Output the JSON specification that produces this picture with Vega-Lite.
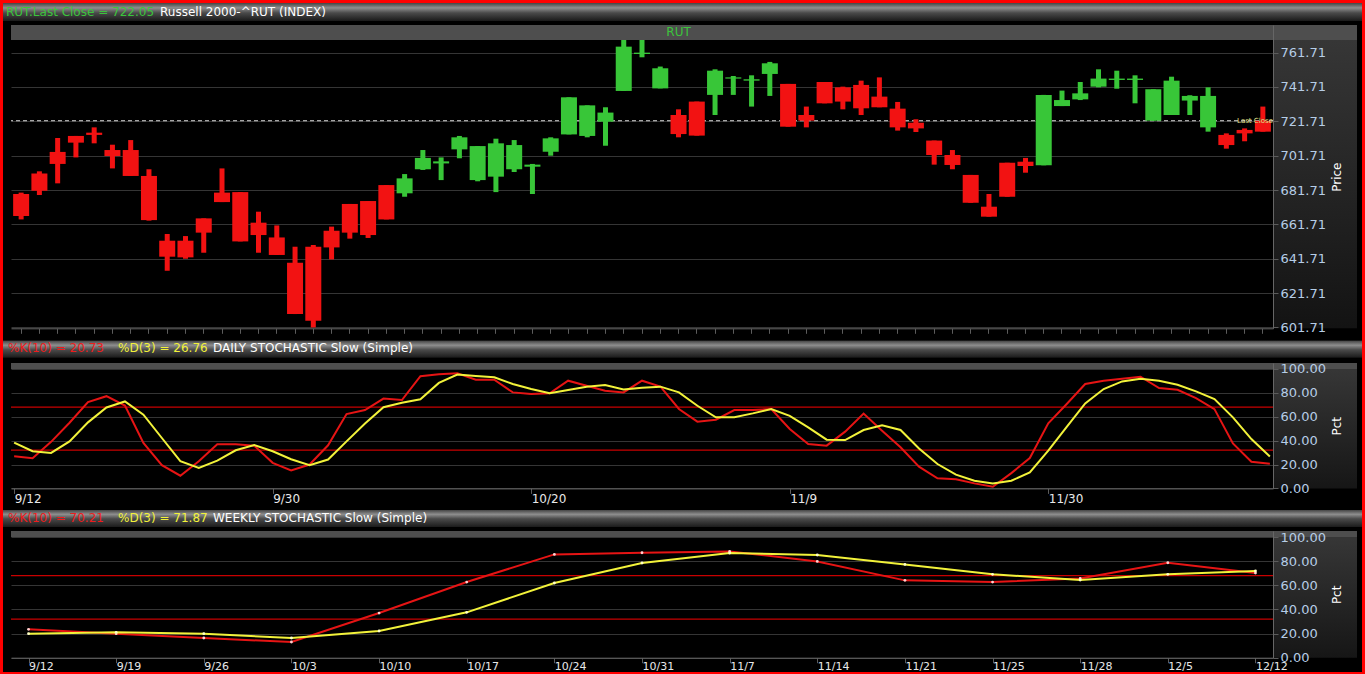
{
  "$schema": "https://vega.github.io/schema/vega-lite/v6.json",
  "description": "Russell 2000 daily candles with daily and weekly slow stochastics.",
  "background": "#000000",
  "padding": 0,
  "spacing": 0,
  "config": {
    "view": {"stroke": null},
    "font": "DejaVu Sans",
    "concat": {"spacing": 0},
    "axis": {
      "labelFont": "DejaVu Sans",
      "titleFont": "DejaVu Sans",
      "domainColor": "#5c5c5c",
      "tickColor": "#5c5c5c",
      "gridColor": "#353535",
      "gridWidth": 1,
      "titleColor": "#ffffff",
      "titleFontWeight": "normal",
      "labelFlush": false,
      "labelOverlap": false
    },
    "legend": {
      "labelFont": "DejaVu Sans",
      "titleFont": "DejaVu Sans",
      "labelFontSize": 12,
      "titleFontSize": 12,
      "titleFontWeight": "normal",
      "titleColor": "#ffffff",
      "titleLimit": 1000,
      "labelLimit": 1000,
      "padding": 0,
      "columnPadding": 14,
      "titleOrient": "right",
      "titlePadding": 5,
      "direction": "horizontal",
      "orient": "top-left"
    }
  },
  "datasets": {
    "candles": [
      {"date": "2011-09-12", "trend": "down", "open": 679.4, "high": 680.2, "low": 664.6, "close": 666.6},
      {"date": "2011-09-13", "trend": "down", "open": 691.4, "high": 692.6, "low": 678.8, "close": 681.3},
      {"date": "2011-09-14", "trend": "down", "open": 703.9, "high": 712.0, "low": 685.6, "close": 696.9},
      {"date": "2011-09-15", "trend": "down", "open": 713.2, "high": 713.2, "low": 700.7, "close": 709.3},
      {"date": "2011-09-16", "trend": "down", "open": 715.1, "high": 718.2, "low": 708.9, "close": 713.8},
      {"date": "2011-09-19", "trend": "down", "open": 705.0, "high": 708.1, "low": 694.3, "close": 701.5},
      {"date": "2011-09-20", "trend": "down", "open": 705.0, "high": 710.8, "low": 689.9, "close": 689.9},
      {"date": "2011-09-21", "trend": "down", "open": 689.9, "high": 693.8, "low": 663.9, "close": 664.2},
      {"date": "2011-09-22", "trend": "down", "open": 652.2, "high": 656.1, "low": 634.7, "close": 642.9},
      {"date": "2011-09-23", "trend": "down", "open": 652.2, "high": 654.9, "low": 641.7, "close": 642.5},
      {"date": "2011-09-26", "trend": "down", "open": 665.2, "high": 665.2, "low": 645.2, "close": 656.9},
      {"date": "2011-09-27", "trend": "down", "open": 680.2, "high": 694.3, "low": 674.7, "close": 674.7},
      {"date": "2011-09-28", "trend": "down", "open": 680.5, "high": 680.5, "low": 651.8, "close": 651.8},
      {"date": "2011-09-29", "trend": "down", "open": 662.7, "high": 669.1, "low": 645.2, "close": 655.5},
      {"date": "2011-09-30", "trend": "down", "open": 654.1, "high": 661.1, "low": 643.9, "close": 643.9},
      {"date": "2011-10-03", "trend": "down", "open": 639.4, "high": 648.7, "low": 609.5, "close": 609.5},
      {"date": "2011-10-04", "trend": "down", "open": 648.7, "high": 649.7, "low": 601.71, "close": 605.6},
      {"date": "2011-10-05", "trend": "down", "open": 658.0, "high": 660.4, "low": 641.3, "close": 648.3},
      {"date": "2011-10-06", "trend": "down", "open": 673.6, "high": 673.6, "low": 653.4, "close": 656.9},
      {"date": "2011-10-07", "trend": "down", "open": 675.3, "high": 675.3, "low": 653.8, "close": 655.5},
      {"date": "2011-10-10", "trend": "down", "open": 684.6, "high": 684.6, "low": 664.6, "close": 664.6},
      {"date": "2011-10-11", "trend": "up", "open": 679.8, "high": 691.0, "low": 677.8, "close": 688.5},
      {"date": "2011-10-12", "trend": "up", "open": 693.8, "high": 705.0, "low": 693.4, "close": 700.4},
      {"date": "2011-10-13", "trend": "up", "open": 697.2, "high": 700.7, "low": 687.5, "close": 698.4},
      {"date": "2011-10-14", "trend": "up", "open": 705.4, "high": 713.2, "low": 700.2, "close": 712.4},
      {"date": "2011-10-17", "trend": "up", "open": 687.5, "high": 707.3, "low": 686.8, "close": 707.3},
      {"date": "2011-10-18", "trend": "up", "open": 689.5, "high": 711.6, "low": 680.5, "close": 708.9},
      {"date": "2011-10-19", "trend": "up", "open": 693.8, "high": 710.8, "low": 692.2, "close": 707.9},
      {"date": "2011-10-20", "trend": "up", "open": 695.3, "high": 696.9, "low": 679.4, "close": 696.5},
      {"date": "2011-10-21", "trend": "up", "open": 704.0, "high": 712.4, "low": 701.7, "close": 711.8},
      {"date": "2011-10-24", "trend": "up", "open": 714.1, "high": 735.7, "low": 714.1, "close": 735.7},
      {"date": "2011-10-25", "trend": "up", "open": 713.2, "high": 731.0, "low": 712.4, "close": 731.0},
      {"date": "2011-10-26", "trend": "up", "open": 721.5, "high": 729.9, "low": 707.5, "close": 726.8},
      {"date": "2011-10-27", "trend": "up", "open": 739.4, "high": 770.0, "low": 739.4, "close": 765.2},
      {"date": "2011-10-28", "trend": "up", "open": 760.9, "high": 770.0, "low": 759.0, "close": 761.7},
      {"date": "2011-10-31", "trend": "up", "open": 740.9, "high": 753.6, "low": 740.9, "close": 752.6},
      {"date": "2011-11-01", "trend": "down", "open": 725.4, "high": 728.7, "low": 712.4, "close": 714.3},
      {"date": "2011-11-02", "trend": "down", "open": 733.2, "high": 733.2, "low": 713.4, "close": 713.4},
      {"date": "2011-11-03", "trend": "up", "open": 737.1, "high": 752.0, "low": 725.4, "close": 751.2},
      {"date": "2011-11-04", "trend": "up", "open": 746.6, "high": 748.1, "low": 737.1, "close": 747.3},
      {"date": "2011-11-07", "trend": "up", "open": 745.4, "high": 748.5, "low": 730.3, "close": 746.2},
      {"date": "2011-11-08", "trend": "up", "open": 749.3, "high": 756.3, "low": 736.5, "close": 755.5},
      {"date": "2011-11-09", "trend": "down", "open": 743.5, "high": 743.5, "low": 718.6, "close": 718.6},
      {"date": "2011-11-10", "trend": "down", "open": 725.4, "high": 730.3, "low": 718.2, "close": 722.1},
      {"date": "2011-11-11", "trend": "down", "open": 744.6, "high": 744.6, "low": 732.2, "close": 732.2},
      {"date": "2011-11-14", "trend": "down", "open": 741.5, "high": 741.9, "low": 728.7, "close": 733.2},
      {"date": "2011-11-15", "trend": "down", "open": 742.9, "high": 745.4, "low": 725.4, "close": 729.3},
      {"date": "2011-11-16", "trend": "down", "open": 736.1, "high": 747.3, "low": 729.9, "close": 729.9},
      {"date": "2011-11-17", "trend": "down", "open": 729.1, "high": 733.0, "low": 716.3, "close": 718.2},
      {"date": "2011-11-18", "trend": "down", "open": 720.9, "high": 722.9, "low": 715.5, "close": 717.6},
      {"date": "2011-11-21", "trend": "down", "open": 710.5, "high": 710.5, "low": 696.5, "close": 702.1},
      {"date": "2011-11-22", "trend": "down", "open": 702.1, "high": 705.0, "low": 693.8, "close": 696.3},
      {"date": "2011-11-23", "trend": "down", "open": 690.5, "high": 690.5, "low": 674.3, "close": 674.3},
      {"date": "2011-11-25", "trend": "down", "open": 672.0, "high": 679.4, "low": 666.2, "close": 666.2},
      {"date": "2011-11-28", "trend": "down", "open": 697.6, "high": 697.6, "low": 677.8, "close": 677.8},
      {"date": "2011-11-29", "trend": "down", "open": 698.2, "high": 700.4, "low": 691.8, "close": 695.7},
      {"date": "2011-11-30", "trend": "up", "open": 696.1, "high": 737.1, "low": 696.1, "close": 737.1},
      {"date": "2011-12-01", "trend": "up", "open": 730.6, "high": 739.6, "low": 730.6, "close": 734.1},
      {"date": "2011-12-02", "trend": "up", "open": 734.5, "high": 744.6, "low": 734.1, "close": 738.0},
      {"date": "2011-12-05", "trend": "up", "open": 741.9, "high": 752.0, "low": 741.5, "close": 746.6},
      {"date": "2011-12-06", "trend": "up", "open": 745.8, "high": 751.2, "low": 740.7, "close": 746.6},
      {"date": "2011-12-07", "trend": "up", "open": 745.8, "high": 748.5, "low": 732.2, "close": 746.6},
      {"date": "2011-12-08", "trend": "up", "open": 722.1, "high": 740.4, "low": 722.1, "close": 740.4},
      {"date": "2011-12-09", "trend": "up", "open": 725.4, "high": 747.7, "low": 725.4, "close": 745.4},
      {"date": "2011-12-12", "trend": "up", "open": 733.8, "high": 736.9, "low": 725.4, "close": 736.5},
      {"date": "2011-12-13", "trend": "up", "open": 718.2, "high": 741.5, "low": 715.7, "close": 736.5},
      {"date": "2011-12-14", "trend": "down", "open": 713.8, "high": 714.7, "low": 705.8, "close": 707.9},
      {"date": "2011-12-15", "trend": "down", "open": 716.7, "high": 717.6, "low": 710.1, "close": 714.7},
      {"date": "2011-12-16", "trend": "down", "open": 722.05, "high": 730.3, "low": 715.7, "close": 715.7}
    ],
    "daily": [
      {"date": "2011-09-12", "k": 26.9, "d": 38.3},
      {"date": "2011-09-13", "k": 25.3, "d": 31.1},
      {"date": "2011-09-14", "k": 39.0, "d": 29.7},
      {"date": "2011-09-15", "k": 55.0, "d": 39.4},
      {"date": "2011-09-16", "k": 72.2, "d": 55.3},
      {"date": "2011-09-19", "k": 77.2, "d": 67.8},
      {"date": "2011-09-20", "k": 69.4, "d": 72.8},
      {"date": "2011-09-21", "k": 38.1, "d": 61.7},
      {"date": "2011-09-22", "k": 19.4, "d": 42.2},
      {"date": "2011-09-23", "k": 10.6, "d": 22.8},
      {"date": "2011-09-26", "k": 22.8, "d": 17.2},
      {"date": "2011-09-27", "k": 36.9, "d": 23.3},
      {"date": "2011-09-28", "k": 36.9, "d": 31.9},
      {"date": "2011-09-29", "k": 35.8, "d": 36.4},
      {"date": "2011-09-30", "k": 21.4, "d": 31.1},
      {"date": "2011-10-03", "k": 15.0, "d": 24.4},
      {"date": "2011-10-04", "k": 20.0, "d": 19.4},
      {"date": "2011-10-05", "k": 36.1, "d": 24.2},
      {"date": "2011-10-06", "k": 62.2, "d": 39.4},
      {"date": "2011-10-07", "k": 65.6, "d": 54.4},
      {"date": "2011-10-10", "k": 75.2, "d": 68.0},
      {"date": "2011-10-11", "k": 74.0, "d": 71.7},
      {"date": "2011-10-12", "k": 94.0, "d": 74.6},
      {"date": "2011-10-13", "k": 95.5, "d": 88.3},
      {"date": "2011-10-14", "k": 96.4, "d": 95.3},
      {"date": "2011-10-17", "k": 91.0, "d": 94.2},
      {"date": "2011-10-18", "k": 91.0, "d": 93.0},
      {"date": "2011-10-19", "k": 80.4, "d": 87.4},
      {"date": "2011-10-20", "k": 79.0, "d": 83.2},
      {"date": "2011-10-21", "k": 79.6, "d": 79.6},
      {"date": "2011-10-24", "k": 90.2, "d": 82.3},
      {"date": "2011-10-25", "k": 86.0, "d": 85.2},
      {"date": "2011-10-26", "k": 81.8, "d": 86.6},
      {"date": "2011-10-27", "k": 80.4, "d": 82.9},
      {"date": "2011-10-28", "k": 90.2, "d": 84.3},
      {"date": "2011-10-31", "k": 85.2, "d": 85.2},
      {"date": "2011-11-01", "k": 66.5, "d": 80.4},
      {"date": "2011-11-02", "k": 55.9, "d": 69.2},
      {"date": "2011-11-03", "k": 57.5, "d": 59.5},
      {"date": "2011-11-04", "k": 65.6, "d": 59.5},
      {"date": "2011-11-07", "k": 65.6, "d": 62.8},
      {"date": "2011-11-08", "k": 66.5, "d": 66.5},
      {"date": "2011-11-09", "k": 49.7, "d": 60.8},
      {"date": "2011-11-10", "k": 37.2, "d": 51.1},
      {"date": "2011-11-11", "k": 35.8, "d": 40.8},
      {"date": "2011-11-14", "k": 47.5, "d": 40.5},
      {"date": "2011-11-15", "k": 62.6, "d": 48.9},
      {"date": "2011-11-16", "k": 48.3, "d": 52.8},
      {"date": "2011-11-17", "k": 34.4, "d": 48.9},
      {"date": "2011-11-18", "k": 18.2, "d": 33.5},
      {"date": "2011-11-21", "k": 8.4, "d": 20.4},
      {"date": "2011-11-22", "k": 7.6, "d": 11.5},
      {"date": "2011-11-23", "k": 4.2, "d": 6.4},
      {"date": "2011-11-25", "k": 1.4, "d": 4.2},
      {"date": "2011-11-28", "k": 12.8, "d": 6.4},
      {"date": "2011-11-29", "k": 25.4, "d": 13.4},
      {"date": "2011-11-30", "k": 54.5, "d": 31.6},
      {"date": "2011-12-01", "k": 70.7, "d": 51.6},
      {"date": "2011-12-02", "k": 87.4, "d": 71.2},
      {"date": "2011-12-05", "k": 90.2, "d": 83.2},
      {"date": "2011-12-06", "k": 91.9, "d": 89.6},
      {"date": "2011-12-07", "k": 93.5, "d": 91.8},
      {"date": "2011-12-08", "k": 84.0, "d": 90.2},
      {"date": "2011-12-09", "k": 82.6, "d": 86.8},
      {"date": "2011-12-12", "k": 75.6, "d": 81.2},
      {"date": "2011-12-13", "k": 66.4, "d": 74.8},
      {"date": "2011-12-14", "k": 37.7, "d": 59.5},
      {"date": "2011-12-15", "k": 22.3, "d": 41.3},
      {"date": "2011-12-16", "k": 20.73, "d": 26.76}
    ],
    "weekly": [
      {"date": "2011-09-12", "k": 23.5, "d": 19.9},
      {"date": "2011-09-19", "k": 19.9, "d": 21.0},
      {"date": "2011-09-26", "k": 16.3, "d": 19.9},
      {"date": "2011-10-03", "k": 13.0, "d": 16.3},
      {"date": "2011-10-10", "k": 37.0, "d": 22.1},
      {"date": "2011-10-17", "k": 62.7, "d": 37.6},
      {"date": "2011-10-24", "k": 85.6, "d": 61.9},
      {"date": "2011-10-31", "k": 87.0, "d": 78.5},
      {"date": "2011-11-07", "k": 88.1, "d": 86.7},
      {"date": "2011-11-14", "k": 79.8, "d": 85.1},
      {"date": "2011-11-21", "k": 64.1, "d": 77.3},
      {"date": "2011-11-25", "k": 62.7, "d": 69.1},
      {"date": "2011-11-28", "k": 65.7, "d": 64.4},
      {"date": "2011-12-05", "k": 78.7, "d": 69.1},
      {"date": "2011-12-12", "k": 70.21, "d": 71.87}
    ],
    "levels": [{"level": 32}, {"level": 68}]
  },
  "hconcat": [
    {
      "width": 3,
      "height": 674,
      "view": {"fill": "#ff0000", "stroke": null},
      "data": {"values": []},
      "mark": "point"
    },
    {
      "resolve": {"scale": {"color": "independent"}, "legend": {"color": "independent"}},
      "vconcat": [
        {
          "width": 1359,
          "height": 3,
          "view": {"fill": "#ff0000", "stroke": null},
          "data": {"values": []},
          "mark": "point"
        },
        {
          "width": 1359,
          "height": 22,
          "view": {
            "stroke": null,
            "fill": {
              "gradient": "linear", "x1": 0, "y1": 0, "x2": 0, "y2": 1,
              "stops": [
                {"offset": 0, "color": "#444444"},
                {"offset": 0.22, "color": "#8e8e8e"},
                {"offset": 0.45, "color": "#4a4a4a"},
                {"offset": 0.8, "color": "#1c1c1c"},
                {"offset": 0.81, "color": "#000000"},
                {"offset": 1, "color": "#000000"}
              ]
            }
          },
          "data": {"values": [{"item": "RUT.Last Close = 722.05"}]},
          "mark": {"type": "point", "opacity": 0},
          "encoding": {
            "color": {
              "field": "item",
              "type": "nominal",
              "scale": {"range": ["#3cc43c"]},
              "legend": {
                "title": "Russell 2000-^RUT (INDEX)",
                "offset": 0,
                "padding": 3,
                "titlePadding": 6,
                "symbolSize": 1,
                "symbolStrokeWidth": 0,
                "labelOffset": -12,
                "labelColor": "#3cc43c"
              }
            }
          }
        },
        {
          "bounds": "flush",
          "hconcat": [
            {"width": 8, "height": 303, "data": {"values": []}, "mark": "point"},
            {
              "width": 1262,
              "height": 303.3,
              "data": {"name": "candles"},
              "encoding": {
                "x": {
                  "field": "date",
                  "type": "ordinal",
                  "scale": {"paddingInner": 0, "paddingOuter": 0.055},
                  "axis": {"labels": false, "title": null, "tickSize": 5, "domainColor": "#666666"}
                }
              },
              "layer": [
                {
                  "data": {"values": [{}]},
                  "mark": {"type": "rule", "color": "#d8d8d8", "strokeDash": [4, 3], "strokeWidth": 1},
                  "encoding": {"y": {"datum": 722.05, "type": "quantitative"}, "x": null}
                },
                {
                  "mark": {"type": "bar", "size": 5},
                  "encoding": {
                    "y": {
                      "field": "low",
                      "type": "quantitative",
                      "scale": {"domain": [601.2, 777.8], "nice": false, "zero": false},
                      "axis": {
                        "orient": "right",
                        "values": [601.71, 621.71, 641.71, 661.71, 681.71, 701.71, 721.71, 741.71, 761.71],
                        "tickCount": 20,
                        "grid": true,
                        "labels": false,
                        "ticks": false,
                        "domain": false,
                        "title": null
                      }
                    },
                    "y2": {"field": "high"},
                    "color": {
                      "field": "trend",
                      "type": "nominal",
                      "scale": {"domain": ["down", "up"], "range": ["#f21212", "#38c638"]},
                      "legend": null
                    }
                  }
                },
                {
                  "mark": {"type": "bar", "size": 16},
                  "encoding": {
                    "y": {"field": "open", "type": "quantitative"},
                    "y2": {"field": "close"},
                    "color": {"field": "trend", "type": "nominal", "legend": null}
                  }
                },
                {
                  "data": {"values": [{}]},
                  "mark": {"type": "rect", "color": "#4e4e4e"},
                  "encoding": {"y": {"datum": 769.1, "type": "quantitative"}, "y2": {"datum": 777.8}, "x": null}
                },
                {
                  "data": {"values": [{}]},
                  "mark": {"type": "text", "color": "#3cc43c", "fontSize": 12, "baseline": "middle"},
                  "encoding": {
                    "x": {"datum": "2011-11-01", "type": "ordinal"},
                    "y": {"datum": 773.5, "type": "quantitative"},
                    "text": {"value": "RUT"}
                  }
                },
                {
                  "data": {"values": [{}]},
                  "mark": {"type": "text", "color": "#e0e08a", "fontSize": 7, "baseline": "middle", "align": "right", "dx": 10},
                  "encoding": {
                    "x": {"datum": "2011-12-16", "type": "ordinal"},
                    "y": {"datum": 722.05, "type": "quantitative"},
                    "text": {"value": "Last Close"}
                  }
                }
              ]
            },
            {
              "width": 84,
              "height": 303.3,
              "view": {
                "stroke": null,
                "fill": {
                  "gradient": "linear", "x1": 0, "y1": 0, "x2": 0, "y2": 1,
                  "stops": [{"offset": 0, "color": "#383838"}, {"offset": 1, "color": "#131313"}]
                }
              },
              "data": {"values": [{}]},
              "mark": {"type": "rect", "color": "#4e4e4e"},
              "encoding": {
                "y": {
                  "datum": 769.1,
                  "type": "quantitative",
                  "scale": {"domain": [601.2, 777.8], "nice": false, "zero": false},
                  "axis": {
                    "orient": "right",
                    "offset": -84,
                    "zindex": 1,
                    "values": [601.71, 621.71, 641.71, 661.71, 681.71, 701.71, 721.71, 741.71, 761.71],
                    "tickCount": 20,
                    "format": ".2f",
                    "grid": false,
                    "tickSize": 5,
                    "labelPadding": 2,
                    "labelFontSize": 13,
                    "labelColor": "#b6cde6",
                    "domainColor": "#666666",
                    "title": "Price",
                    "titleFontSize": 12,
                    "titleAngle": 270,
                    "titlePadding": 18
                  }
                },
                "y2": {"datum": 777.8}
              }
            }
          ]
        },
        {
          "width": 1359,
          "height": 27,
          "view": {
            "stroke": null,
            "fill": {
              "gradient": "linear", "x1": 0, "y1": 0, "x2": 0, "y2": 1,
              "stops": [
                {"offset": 0, "color": "#000000"},
                {"offset": 0.2, "color": "#000000"},
                {"offset": 0.21, "color": "#444444"},
                {"offset": 0.38, "color": "#8e8e8e"},
                {"offset": 0.55, "color": "#4a4a4a"},
                {"offset": 0.83, "color": "#1c1c1c"},
                {"offset": 0.84, "color": "#000000"},
                {"offset": 1, "color": "#000000"}
              ]
            }
          },
          "data": {"values": [{"series": "K"}, {"series": "D"}]},
          "mark": {"type": "point", "opacity": 0},
          "encoding": {
            "color": {
              "field": "series",
              "type": "nominal",
              "scale": {"domain": ["K", "D"], "range": ["#ee1c1c", "#f2f23a"]},
              "legend": {
                "title": "DAILY STOCHASTIC Slow (Simple)",
                "offset": 7,
                "symbolSize": 1,
                "symbolStrokeWidth": 0,
                "labelOffset": -14,
                "labelExpr": "datum.value == 'K' ? '%K(10) = 20.73' : '%D(3) = 26.76'",
                "labelColor": {"expr": "datum.value == 'K' ? '#ee1c1c' : '#f2f23a'"}
              }
            }
          }
        },
        {
          "bounds": "flush",
          "hconcat": [
            {"width": 8, "height": 125, "data": {"values": []}, "mark": "point"},
            {
              "width": 1262,
              "height": 125.4,
              "data": {"name": "daily"},
              "encoding": {
                "x": {
                  "field": "date",
                  "type": "ordinal",
                  "scale": {"type": "point", "padding": 0.17},
                  "axis": {
                    "title": null,
                    "values": ["2011-09-12", "2011-09-30", "2011-10-20", "2011-11-09", "2011-11-30"],
                    "labelExpr": "parseInt(slice(datum.value, 5, 7)) + '/' + parseInt(slice(datum.value, 8, 10))",
                    "labelAlign": "left",
                    "labelBaseline": "top",
                    "labelAngle": 0,
                    "labelPadding": 0,
                    "labelColor": "#e8e8e8",
                    "labelFontSize": 12,
                    "tickSize": 5,
                    "domainColor": "#666666"
                  }
                }
              },
              "layer": [
                {
                  "data": {"values": [{}]},
                  "mark": {"type": "rect", "color": "#4e4e4e"},
                  "encoding": {
                    "y": {
                      "datum": 100,
                      "type": "quantitative",
                      "scale": {"domain": [0, 105], "nice": false},
                      "axis": {
                        "orient": "right",
                        "values": [0, 20, 40, 60, 80, 100],
                        "tickCount": 20,
                        "grid": true,
                        "labels": false,
                        "ticks": false,
                        "domain": false,
                        "title": null
                      }
                    },
                    "y2": {"datum": 105},
                    "x": null
                  }
                },
                {
                  "data": {"name": "levels"},
                  "mark": {"type": "rule", "color": "#c80000", "strokeWidth": 1.3},
                  "encoding": {"y": {"field": "level", "type": "quantitative"}, "x": null}
                },
                {
                  "mark": {"type": "line", "color": "#e61414", "strokeWidth": 2},
                  "encoding": {"y": {"field": "k", "type": "quantitative"}}
                },
                {
                  "mark": {"type": "line", "color": "#f2f23a", "strokeWidth": 2},
                  "encoding": {"y": {"field": "d", "type": "quantitative"}}
                }
              ]
            },
            {
              "width": 84,
              "height": 125.4,
              "view": {
                "stroke": null,
                "fill": {
                  "gradient": "linear", "x1": 0, "y1": 0, "x2": 0, "y2": 1,
                  "stops": [{"offset": 0, "color": "#383838"}, {"offset": 1, "color": "#161616"}]
                }
              },
              "data": {"values": [{}]},
              "mark": {"type": "rect", "color": "#4e4e4e"},
              "encoding": {
                "y": {
                  "datum": 100,
                  "type": "quantitative",
                  "scale": {"domain": [0, 105], "nice": false},
                  "axis": {
                    "orient": "right",
                    "offset": -84,
                    "zindex": 1,
                    "values": [0, 20, 40, 60, 80, 100],
                    "tickCount": 20,
                    "format": ".2f",
                    "grid": false,
                    "tickSize": 5,
                    "labelPadding": 2,
                    "labelFontSize": 13,
                    "labelColor": "#b6cde6",
                    "domainColor": "#666666",
                    "title": "Pct",
                    "titleFontSize": 12,
                    "titleAngle": 270,
                    "titlePadding": 18
                  }
                },
                "y2": {"datum": 105}
              }
            }
          ]
        },
        {
          "width": 1359,
          "height": 26,
          "view": {
            "stroke": null,
            "fill": {
              "gradient": "linear", "x1": 0, "y1": 0, "x2": 0, "y2": 1,
              "stops": [
                {"offset": 0, "color": "#000000"},
                {"offset": 0.18, "color": "#000000"},
                {"offset": 0.19, "color": "#444444"},
                {"offset": 0.36, "color": "#8e8e8e"},
                {"offset": 0.53, "color": "#4a4a4a"},
                {"offset": 0.84, "color": "#1c1c1c"},
                {"offset": 0.85, "color": "#000000"},
                {"offset": 1, "color": "#000000"}
              ]
            }
          },
          "data": {"values": [{"series": "K"}, {"series": "D"}]},
          "mark": {"type": "point", "opacity": 0},
          "encoding": {
            "color": {
              "field": "series",
              "type": "nominal",
              "scale": {"domain": ["K", "D"], "range": ["#ee1c1c", "#f2f23a"]},
              "legend": {
                "title": "WEEKLY STOCHASTIC Slow (Simple)",
                "offset": 7,
                "symbolSize": 1,
                "symbolStrokeWidth": 0,
                "labelOffset": -14,
                "labelExpr": "datum.value == 'K' ? '%K(10) = 70.21' : '%D(3) = 71.87'",
                "labelColor": {"expr": "datum.value == 'K' ? '#ee1c1c' : '#f2f23a'"}
              }
            }
          }
        },
        {
          "bounds": "flush",
          "hconcat": [
            {"width": 8, "height": 126, "data": {"values": []}, "mark": "point"},
            {
              "width": 1262,
              "height": 126.7,
              "data": {"name": "weekly"},
              "encoding": {
                "x": {
                  "field": "date",
                  "type": "ordinal",
                  "scale": {"type": "point", "padding": 0.2},
                  "axis": {
                    "title": null,
                    "labelExpr": "parseInt(slice(datum.value, 5, 7)) + '/' + parseInt(slice(datum.value, 8, 10))",
                    "labelAlign": "left",
                    "labelBaseline": "top",
                    "labelAngle": 0,
                    "labelPadding": -2,
                    "labelColor": "#e8e8e8",
                    "labelFontSize": 11,
                    "tickSize": 5,
                    "domainColor": "#666666"
                  }
                }
              },
              "layer": [
                {
                  "data": {"values": [{}]},
                  "mark": {"type": "rect", "color": "#4e4e4e"},
                  "encoding": {
                    "y": {
                      "datum": 100,
                      "type": "quantitative",
                      "scale": {"domain": [0, 105], "nice": false},
                      "axis": {
                        "orient": "right",
                        "values": [0, 20, 40, 60, 80, 100],
                        "tickCount": 20,
                        "grid": true,
                        "labels": false,
                        "ticks": false,
                        "domain": false,
                        "title": null
                      }
                    },
                    "y2": {"datum": 105},
                    "x": null
                  }
                },
                {
                  "data": {"name": "levels"},
                  "mark": {"type": "rule", "color": "#c80000", "strokeWidth": 1.3},
                  "encoding": {"y": {"field": "level", "type": "quantitative"}, "x": null}
                },
                {
                  "mark": {"type": "line", "color": "#e61414", "strokeWidth": 2, "point": {"filled": true, "size": 8, "color": "#ffd0d0"}},
                  "encoding": {"y": {"field": "k", "type": "quantitative"}}
                },
                {
                  "mark": {"type": "line", "color": "#f2f23a", "strokeWidth": 2, "point": {"filled": true, "size": 8, "color": "#ffffc8"}},
                  "encoding": {"y": {"field": "d", "type": "quantitative"}}
                }
              ]
            },
            {
              "width": 84,
              "height": 126.7,
              "view": {
                "stroke": null,
                "fill": {
                  "gradient": "linear", "x1": 0, "y1": 0, "x2": 0, "y2": 1,
                  "stops": [{"offset": 0, "color": "#383838"}, {"offset": 1, "color": "#161616"}]
                }
              },
              "data": {"values": [{}]},
              "mark": {"type": "rect", "color": "#4e4e4e"},
              "encoding": {
                "y": {
                  "datum": 100,
                  "type": "quantitative",
                  "scale": {"domain": [0, 105], "nice": false},
                  "axis": {
                    "orient": "right",
                    "offset": -84,
                    "zindex": 1,
                    "values": [0, 20, 40, 60, 80, 100],
                    "tickCount": 20,
                    "format": ".2f",
                    "grid": false,
                    "tickSize": 5,
                    "labelPadding": 2,
                    "labelFontSize": 13,
                    "labelColor": "#b6cde6",
                    "domainColor": "#666666",
                    "title": "Pct",
                    "titleFontSize": 12,
                    "titleAngle": 270,
                    "titlePadding": 18
                  }
                },
                "y2": {"datum": 105}
              }
            }
          ]
        },
        {
          "width": 1359,
          "height": 3,
          "view": {"fill": "#ff0000", "stroke": null},
          "data": {"values": []},
          "mark": "point"
        }
      ]
    },
    {
      "width": 3,
      "height": 674,
      "view": {"fill": "#ff0000", "stroke": null},
      "data": {"values": []},
      "mark": "point"
    }
  ]
}
